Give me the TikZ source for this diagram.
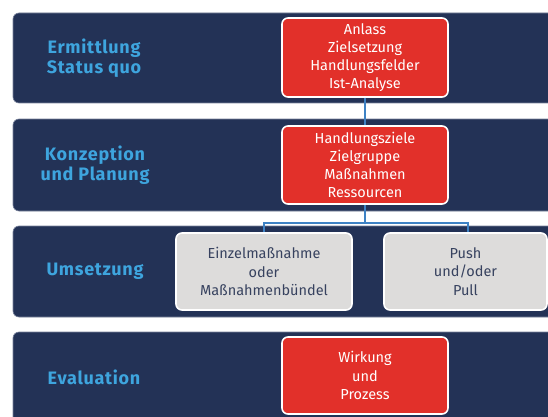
\documentclass[tikz,border=0pt]{standalone}
\usepackage{fontspec}
\setmainfont{Fira Sans}
\newfontfamily\labelfont[LetterSpace=4]{Fira Sans}
\usetikzlibrary{positioning,calc}
\definecolor{navy}{RGB}{35,50,86}
\definecolor{bandedge}{RGB}{120,130,155}
\definecolor{lblue}{RGB}{62,165,222}
\definecolor{boxred}{RGB}{226,48,42}
\definecolor{boxgray}{RGB}{221,220,219}
\definecolor{graytext}{RGB}{55,66,95}
\definecolor{linkblue}{RGB}{62,130,196}
\tikzset{
  band/.style={fill=navy, draw=bandedge, line width=0.6pt, rounded corners=6pt},
  phase/.style={text=lblue, font=\labelfont\fontsize{18}{19.5}\selectfont\bfseries, align=center},
  redbox/.style={fill=boxred, draw=white, line width=1.6pt, rounded corners=6pt,
    text=white, font=\fontsize{14.5}{18.2}\selectfont, align=center,
    minimum width=166pt, inner sep=0pt},
  graybox/.style={fill=boxgray, draw=white, line width=1.6pt, rounded corners=6pt,
    text=graytext, font=\fontsize{14.5}{18.2}\selectfont, align=center,
    inner sep=0pt},
  link/.style={draw=linkblue, line width=2pt}
}
\begin{document}
\begin{tikzpicture}[x=1pt,y=-1pt]
\useasboundingbox (0,0) rectangle (548,417);
\clip (0,0) rectangle (548,417);
\fill[white] (0,0) rectangle (548,417);
% bands
\draw[band] (13,13) rectangle (570,103);
\draw[band] (13,119) rectangle (570,211);
\draw[band] (13,226) rectangle (570,317);
\draw[band] (13,332) rectangle (570,440);
% phase labels
\node[phase] (p1) at (94,58) {Ermittlung\\Status quo};
\node[phase] (p2) at (95,165) {Konzeption\\und Planung};
\node[phase] (p3) at (95,271.5) {Umsetzung};
\node[phase] (p4) at (94,377) {Evaluation};
% boxes
\node[redbox, minimum height=79pt] (r1) at (365,57.5) {Anlass\\Zielsetzung\\Handlungsfelder\\Ist-Analyse};
\node[redbox, minimum height=78pt] (r2) at (365,165) {Handlungsziele\\Zielgruppe\\Maßnahmen\\Ressourcen};
\node[graybox, minimum width=176pt, minimum height=77pt] (g1) at (264,271.5) {Einzelmaßnahme\\oder\\Maßnahmenbündel};
\node[graybox, minimum width=163pt, minimum height=77pt] (g2) at (465.5,271.5) {Push\\und/oder\\Pull};
\node[redbox, minimum height=77pt] (r4) at (365,375.5) {Wirkung\\und\\Prozess};
% connectors
\draw[link] (r1.south) -- (r2.north);
\coordinate (j) at ($(r2.south)+(0,18)$);
\draw[link] (r2.south) -- (j);
\draw[link] (g1.north) |- (j) -| ([xshift=2.5pt]g2.north);
\end{tikzpicture}
\end{document}
